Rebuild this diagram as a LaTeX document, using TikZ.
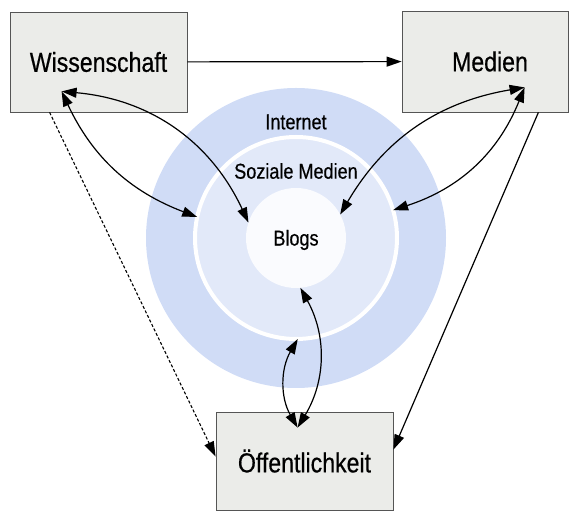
\documentclass[tikz,border=0pt]{standalone}
\usepackage{fontspec}
\setmainfont{Liberation Sans}[FakeStretch=0.84, FakeBold=0.5]
\usetikzlibrary{arrows.meta, positioning}
\definecolor{netblue}{RGB}{208,220,246}
\definecolor{socialblue}{RGB}{226,233,249}
\definecolor{blogwhite}{RGB}{250,251,254}
\definecolor{boxgray}{RGB}{235,236,233}
\definecolor{framegray}{RGB}{85,85,85}

\begin{document}
\begin{tikzpicture}[x=1pt, y=1pt,
    box/.style={rectangle, draw=framegray, fill=boxgray, line width=0.8pt, inner sep=0pt, font=\fontsize{27.5}{30}\selectfont},
    ring/.style={circle, inner sep=0pt, outer sep=0pt},
    ringlabel/.style={font=\fontsize{21.5}{24}\selectfont, inner sep=0pt},
    arrow/.style={line width=1.2pt, -{Triangle[length=15pt,width=10pt]}},
    dasharrow/.style={line width=1.1pt, dash pattern=on 3pt off 2pt, -{Triangle[length=15pt,width=10pt]}},
    twoway/.style={line width=1.2pt, {Triangle[length=15pt,width=10pt]}-{Triangle[length=15pt,width=10pt]}}
]
\useasboundingbox (0,0) rectangle (571,511);

% Rings (Internet / Soziale Medien / Blogs)
\node[ring, fill=netblue, minimum size=300pt] (internet) at (296,273) {};
\node[ring, fill=socialblue, draw=white, line width=4pt, minimum size=202pt] (sozial) at (296,273) {};
\node[ring, fill=blogwhite, minimum size=100pt] (blogs) at (296,273) {};

\node[ringlabel] (lint) at (296,389) {Internet};
\node[ringlabel] (lsoz) at (296,340) {Soziale Medien};
\node[ringlabel] (lblog) at (296,271) {Blogs};

% Boxes
\node[box, minimum width=177pt, minimum height=100pt] (wis) at (98.5,449) {Wissenschaft};
\node[box, minimum width=166pt, minimum height=101pt] (med) at (485,449.5) {\hspace*{10pt}Medien};
\node[box, minimum width=177pt, minimum height=98pt] (off) at (304.5,50) {Öffentlichkeit};

% Straight arrows
\draw[arrow] (wis) -- (med);
\draw[dasharrow] ([xshift=40pt]wis.south west) -- ([yshift=-45pt]off.north west);
\draw[arrow] ([xshift=-30pt]med.south east) -- ([yshift=-38pt]off.north east);

% Two-way arrows into the rings
\draw[twoway] ([xshift=52pt,yshift=21pt]wis.south west) to[bend left=30] (blogs.162);
\draw[twoway] ([xshift=52pt,yshift=21pt]wis.south west) to[bend right=22] (sozial.168);
\draw[twoway] ([xshift=123pt,yshift=25pt]med.south west) to[bend right=25] (blogs.28);
\draw[twoway] ([xshift=123pt,yshift=25pt]med.south west) to[bend left=25] (sozial.16);
\draw[twoway] ([xshift=82pt,yshift=-16pt]off.north west) to[bend right=30] (blogs.-85);
\draw[twoway] ([xshift=82pt,yshift=-16pt]off.north west) to[bend left=30] (sozial.-89);

\end{tikzpicture}
\end{document}
